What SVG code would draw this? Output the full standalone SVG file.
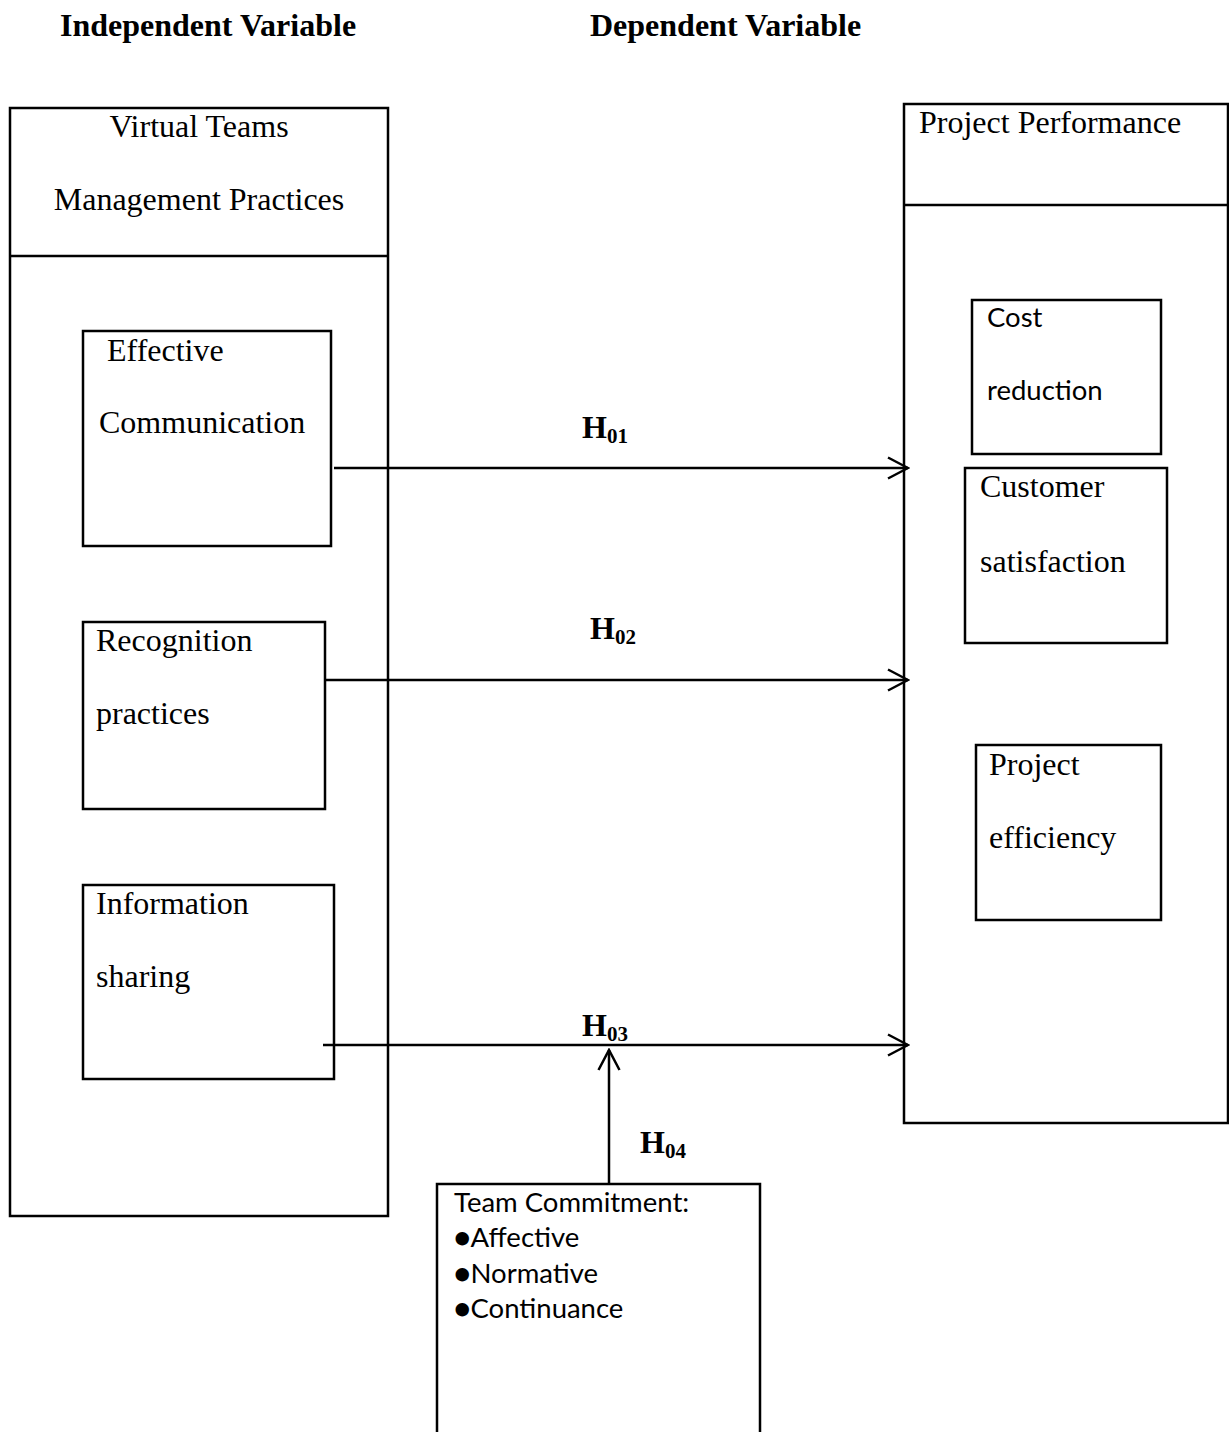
<svg xmlns="http://www.w3.org/2000/svg" width="1229" height="1432" viewBox="0 0 1229 1432">
<style>
.box{fill:#fff;stroke:#000;stroke-width:2.5}
.ln{fill:none;stroke:#000;stroke-width:2.5}
.tr{font-family:"Liberation Serif","Times New Roman",serif;font-size:32px;fill:#000}
.hd{font-family:"Liberation Serif","Times New Roman",serif;font-size:32px;font-weight:bold;fill:#000}
.hy{font-family:"Liberation Serif","Times New Roman",serif;font-size:32px;font-weight:bold;fill:#000}
.sb{font-size:21px}
.ca{font-family:Lato,"Open Sans",sans-serif;font-size:27.5px;fill:#000}
</style>
<defs>
<marker id="ah" viewBox="0 0 24 24" refX="22" refY="12" markerWidth="24" markerHeight="24" markerUnits="userSpaceOnUse" orient="auto">
<path d="M2,1.5 L22,12 L2,22.5" fill="none" stroke="#000" stroke-width="2.5"/>
</marker>
</defs>
<rect width="1229" height="1432" fill="#fff"/>
<text class="hd" x="60" y="36">Independent Variable</text>
<text class="hd" x="590" y="36">Dependent Variable</text>

<g id="vtmp">
<rect class="box" x="10" y="108" width="378" height="1108"/>
<line class="ln" x1="10" y1="256" x2="388" y2="256"/>
<text class="tr" x="199" y="137" text-anchor="middle">Virtual Teams</text>
<text class="tr" x="199" y="210" text-anchor="middle">Management Practices</text>
</g>

<g id="pp">
<rect class="box" x="904" y="104" width="324" height="1019"/>
<line class="ln" x1="904" y1="205" x2="1228" y2="205"/>
<text class="tr" x="919" y="133">Project Performance</text>
</g>

<g id="ec">
<rect class="box" x="83" y="331" width="248" height="215"/>
<text class="tr" x="107" y="361">Effective</text>
<text class="tr" x="99" y="433">Communication</text>
</g>

<g id="rp">
<rect class="box" x="83" y="622" width="242" height="187"/>
<text class="tr" x="96" y="651">Recognition</text>
<text class="tr" x="96" y="724">practices</text>
</g>

<g id="is">
<rect class="box" x="83" y="885" width="251" height="194"/>
<text class="tr" x="96" y="914">Information</text>
<text class="tr" x="96" y="987">sharing</text>
</g>

<g id="cr">
<rect class="box" x="972" y="300" width="189" height="154"/>
<text class="ca" x="987" y="327">Cost</text>
<text class="ca" x="987" y="400">reduction</text>
</g>

<g id="cs">
<rect class="box" x="965" y="468" width="202" height="175"/>
<text class="tr" x="980" y="497">Customer</text>
<text class="tr" x="980" y="572">satisfaction</text>
</g>

<g id="pe">
<rect class="box" x="976" y="745" width="185" height="175"/>
<text class="tr" x="989" y="775">Project</text>
<text class="tr" x="989" y="848">efficiency</text>
</g>

<g id="tc">
<rect class="box" x="437" y="1184" width="323" height="260"/>
<text class="ca" x="454" y="1212">Team Commitment:</text>
<text class="ca" x="454" y="1247">●Affective</text>
<text class="ca" x="454" y="1283">●Normative</text>
<text class="ca" x="454" y="1318">●Continuance</text>
</g>

<g id="connectors">
<line class="ln" x1="334" y1="468" x2="908" y2="468" marker-end="url(#ah)"/>
<line class="ln" x1="325" y1="680" x2="908" y2="680" marker-end="url(#ah)"/>
<line class="ln" x1="323" y1="1045" x2="908" y2="1045" marker-end="url(#ah)"/>
<line class="ln" x1="609" y1="1184" x2="609" y2="1050" marker-end="url(#ah)"/>
<text class="hy" x="582" y="438">H<tspan class="sb" dy="5">01</tspan></text>
<text class="hy" x="590" y="639">H<tspan class="sb" dy="5">02</tspan></text>
<text class="hy" x="582" y="1036">H<tspan class="sb" dy="5">03</tspan></text>
<text class="hy" x="640" y="1153">H<tspan class="sb" dy="5">04</tspan></text>
</g>
</svg>
